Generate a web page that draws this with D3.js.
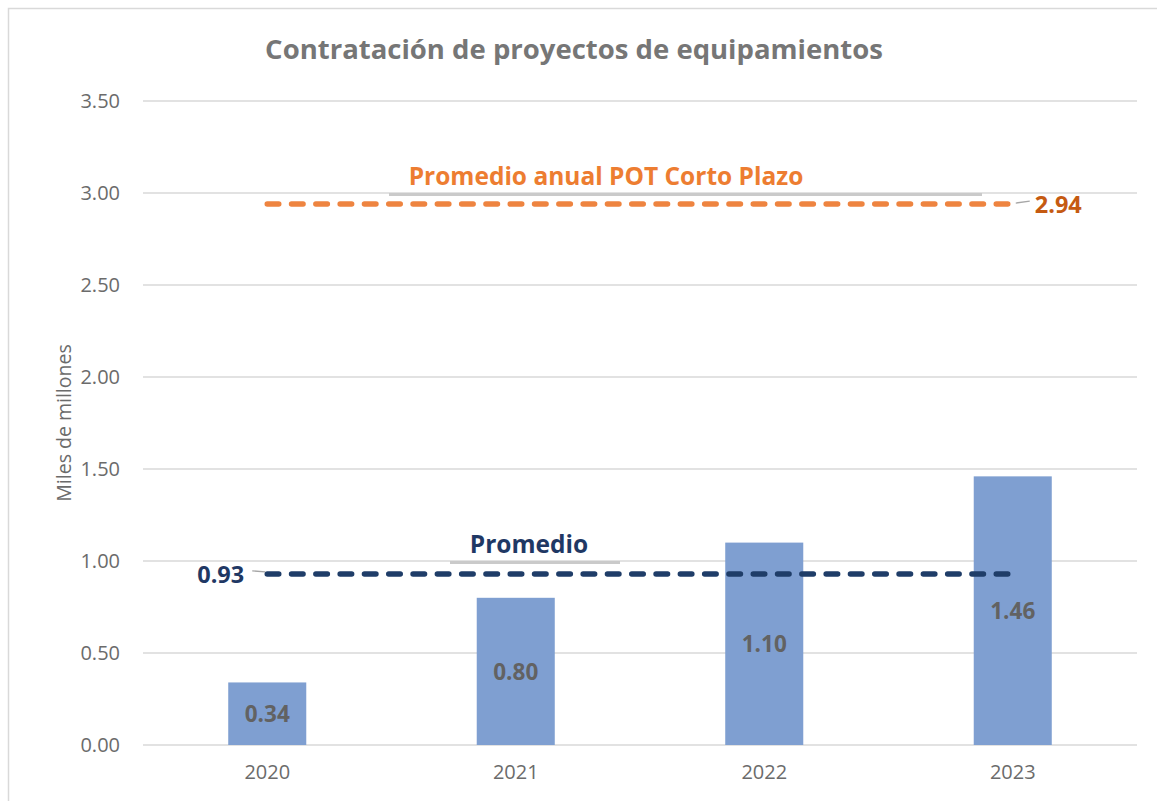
<!DOCTYPE html>
<html>
<head>
<meta charset="utf-8">
<script src="https://cdn.jsdelivr.net/npm/d3@7"></script>
<style>
  body { margin: 0; background: #fff; }
  text { font-family: "Open Sans", "Noto Sans", sans-serif; }
</style>
</head>
<body>
<svg id="chart"></svg>
<script>
let years = ["2020", "2021", "2022", "2023"];
let contratado = [0.34, 0.80, 1.10, 1.46];
let promedio = [0.93, 0.93, 0.93, 0.93];
let promedioPOT = [2.94, 2.94, 2.94, 2.94];
let yTicks = [0, 0.5, 1, 1.5, 2, 2.5, 3, 3.5];

let svgW = 1157, svgH = 801;
let margin = { top: 101, right: 20, bottom: 56, left: 143 };

let svg = d3.select("#chart")
    .attr("width", svgW)
    .attr("height", svgH);

// chart border (only top/left visible in the crop)
svg.append("path")
    .attr("d", "M8.5," + svgH + " V8.5 H" + svgW)
    .attr("fill", "none")
    .attr("stroke", "#d9d9d9")
    .attr("stroke-width", 1.5);

let xScale = d3.scaleBand()
    .domain(years)
    .range([margin.left, svgW - margin.right])
    .paddingInner(0.686)
    .paddingOuter(0.343);

let yScale = d3.scaleLinear()
    .domain([0, 3.5])
    .range([svgH - margin.bottom, margin.top]);

// gridlines
svg.append("g")
    .selectAll("line")
    .data(yTicks)
    .enter()
    .append("line")
    .attr("x1", margin.left)
    .attr("x2", svgW - margin.right)
    .attr("y1", d => yScale(d))
    .attr("y2", d => yScale(d))
    .attr("stroke", "#d9d9d9")
    .attr("stroke-width", 1.3);

let yAxis = d3.axisLeft(yScale)
    .tickValues(yTicks)
    .tickFormat(d3.format(".2f"))
    .tickSize(0)
    .tickPadding(23);

svg.append("g")
    .attr("transform", "translate(" + margin.left + ",0)")
    .call(yAxis)
    .call(g => g.select(".domain").remove())
    .selectAll("text")
    .attr("font-size", 20)
    .attr("fill", "#6b6b6b")
    .style("font-family", "'Open Sans', sans-serif");

let xAxis = d3.axisBottom(xScale)
    .tickSize(0)
    .tickPadding(20);

svg.append("g")
    .attr("transform", "translate(0," + yScale(0) + ")")
    .call(xAxis)
    .call(g => g.select(".domain").remove())
    .selectAll("text")
    .attr("font-size", 20)
    .attr("fill", "#6b6b6b")
    .style("font-family", "'Open Sans', sans-serif");

// bars
svg.append("g")
    .selectAll("rect")
    .data(contratado)
    .enter()
    .append("rect")
    .attr("x", (d, i) => xScale(years[i]))
    .attr("y", d => yScale(d))
    .attr("width", xScale.bandwidth())
    .attr("height", d => yScale(0) - yScale(d))
    .attr("fill", "#7f9fd1");

svg.append("g")
    .selectAll("text")
    .data(contratado)
    .enter()
    .append("text")
    .attr("x", (d, i) => xScale(years[i]) + xScale.bandwidth() / 2)
    .attr("y", d => (yScale(d) + yScale(0)) / 2)
    .attr("dy", "0.38em")
    .attr("text-anchor", "middle")
    .attr("font-size", 22.5)
    .attr("font-weight", "bold")
    .attr("fill", "#626262")
    .text(d => d.toFixed(2));

let line = d3.line()
    .x((d, i) => xScale(years[i]) + xScale.bandwidth() / 2)
    .y(d => yScale(d));

function avgLine(values, color) {
    svg.append("path")
        .datum(values)
        .attr("d", line)
        .attr("fill", "none")
        .attr("stroke", color)
        .attr("stroke-width", 5.5)
        .attr("stroke-linecap", "round")
        .attr("stroke-dasharray", "11.5 12.8");
}
avgLine(promedioPOT, "#ee8440");
avgLine(promedio, "#1f3d68");

// series name labels with leader line
let lastX = xScale(years[3]) + xScale.bandwidth() / 2;
let firstX = xScale(years[0]) + xScale.bandwidth() / 2;

svg.append("line")
    .attr("x1", 389).attr("x2", 982)
    .attr("y1", yScale(3) + 1.5).attr("y2", yScale(3) + 1.5)
    .attr("stroke", "#cacaca").attr("stroke-width", 3);
svg.append("text")
    .attr("x", 606)
    .attr("y", 185)
    .attr("text-anchor", "middle")
    .attr("font-size", 24.5)
    .attr("font-weight", "bold")
    .attr("fill", "#ed7d31")
    .text("Promedio anual POT Corto Plazo");

svg.append("line")
    .attr("x1", 450).attr("x2", 620)
    .attr("y1", yScale(1) + 1.5).attr("y2", yScale(1) + 1.5)
    .attr("stroke", "#cacaca").attr("stroke-width", 3);
svg.append("text")
    .attr("x", 529)
    .attr("y", 553)
    .attr("text-anchor", "middle")
    .attr("font-size", 24.5)
    .attr("font-weight", "bold")
    .attr("fill", "#1f3864")
    .text("Promedio");

// value labels on the average lines
svg.append("path")
    .attr("d", "M" + (lastX + 3) + "," + (yScale(promedioPOT[3]) - 1) + " L" + (lastX + 17) + "," + (yScale(promedioPOT[3]) - 3))
    .attr("stroke", "#a6a6a6").attr("stroke-width", 1.3).attr("fill", "none");
svg.append("text")
    .attr("x", lastX + 22)
    .attr("y", yScale(promedioPOT[3]))
    .attr("dy", "0.38em")
    .attr("font-size", 23.5)
    .attr("font-weight", "bold")
    .attr("fill", "#c55a11")
    .text(promedioPOT[3].toFixed(2));

svg.append("path")
    .attr("d", "M" + (firstX - 15) + "," + (yScale(promedio[0]) - 3) + " L" + (firstX - 2) + "," + (yScale(promedio[0]) - 2))
    .attr("stroke", "#a6a6a6").attr("stroke-width", 1.3).attr("fill", "none");
svg.append("text")
    .attr("x", firstX - 23)
    .attr("y", yScale(promedio[0]))
    .attr("dy", "0.38em")
    .attr("text-anchor", "end")
    .attr("font-size", 23.5)
    .attr("font-weight", "bold")
    .attr("fill", "#1f3864")
    .text(promedio[0].toFixed(2));

// axis title
svg.append("text")
    .attr("transform", "translate(64,423) rotate(-90)")
    .attr("text-anchor", "middle")
    .attr("dy", "0.35em")
    .attr("font-size", 19.5)
    .attr("fill", "#6b6b6b")
    .text("Miles de millones");

// chart title
svg.append("text")
    .attr("x", 574)
    .attr("y", 59)
    .attr("text-anchor", "middle")
    .attr("font-size", 27.5)
    .attr("font-weight", "bold")
    .attr("fill", "#767676")
    .text("Contratación de proyectos de equipamientos");
</script>
</body>
</html>
